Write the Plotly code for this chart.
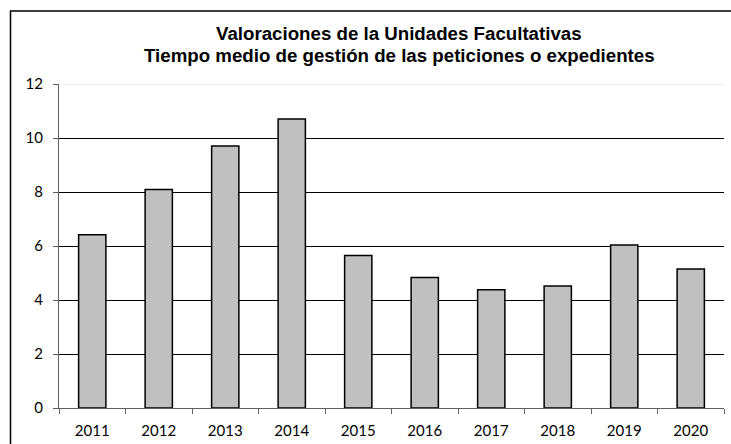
import plotly.graph_objects as go

years = ["2011", "2012", "2013", "2014", "2015", "2016", "2017", "2018", "2019", "2020"]
values = [6.42, 8.09, 9.70, 10.70, 5.65, 4.83, 4.38, 4.52, 6.04, 5.15]
y_ticks = [0, 2, 4, 6, 8, 10, 12]

title_line1 = "Valoraciones de la Unidades Facultativas"
title_line2 = "Tiempo medio de gestión de las peticiones o expedientes"

W, H = 731, 444
L, R, T, B = 59, 7, 84, 36
pw, ph = W - L - R, H - T - B

def px_x(p):
    return (p - L) / pw

def px_y(p):
    return (H - B - p) / ph

fig = go.Figure(go.Bar(
    x=years, y=values,
    marker=dict(color="#C0C0C0", line=dict(color="#000000", width=1.5)),
    hoverinfo="x+y",
))

title_font = dict(family="Liberation Sans", size=18.7, color="black", weight="bold")
tick_font = dict(family="Lato", size=15, color="black")

fig.update_layout(
    width=W, height=H,
    margin=dict(l=L, r=R, t=T, b=B, autoexpand=False),
    paper_bgcolor="white", plot_bgcolor="white",
    bargap=0.59,
    showlegend=False,
    font=dict(family="Lato", size=15, color="black"),
    xaxis=dict(
        type="category", showline=True, linecolor="#606060", linewidth=1,
        ticks="outside", tickson="boundaries", ticklen=5, tickcolor="#606060",
        showgrid=False, tickfont=tick_font, ticklabelstandoff=9, automargin=False,
    ),
    yaxis=dict(
        range=[0, 12], tickvals=y_ticks, showline=True, linecolor="#606060", linewidth=1,
        ticks="outside", ticklen=5, tickcolor="#606060",
        showgrid=True, gridcolor="#000000", gridwidth=1, zeroline=False,
        tickfont=tick_font, ticklabelstandoff=7, automargin=False,
    ),
    annotations=[
        dict(text=title_line1, xref="paper", yref="paper", x=px_x(398.5), y=px_y(34),
             xanchor="center", yanchor="middle", showarrow=False, font=title_font),
        dict(text=title_line2, xref="paper", yref="paper", x=px_x(399.5), y=px_y(55),
             xanchor="center", yanchor="middle", showarrow=False, font=title_font),
    ],
    shapes=[
        dict(type="line", xref="paper", yref="y", x0=0, x1=1, y0=12, y1=12,
             line=dict(color="#E0E0E0", width=1), layer="above"),
        dict(type="rect", xref="paper", yref="paper",
             x0=px_x(10.5), x1=px_x(780), y0=px_y(480), y1=px_y(11),
             line=dict(color="black", width=1.5), fillcolor="rgba(0,0,0,0)"),
    ],
)

fig.write_html(
    "out.html",
    config={"displayModeBar": False},
    post_script="document.body.style.margin='0';document.body.style.padding='0';document.body.style.overflow='hidden';",
)
